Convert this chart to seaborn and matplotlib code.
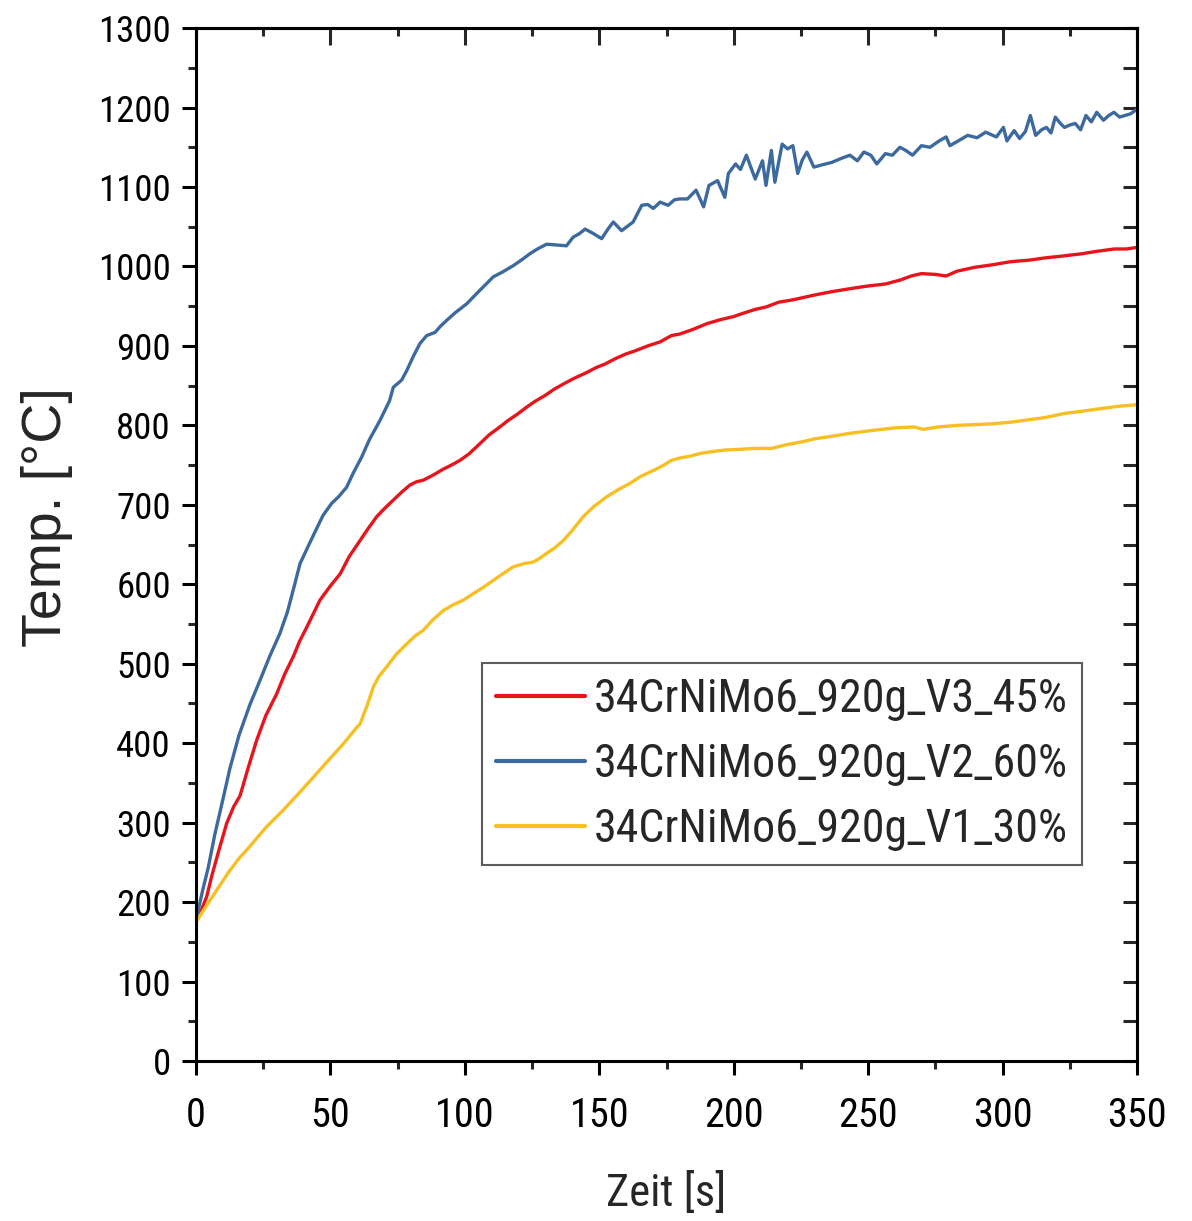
import numpy as np
import pandas as pd
import matplotlib
matplotlib.use("Agg")
import matplotlib.pyplot as plt
from matplotlib import font_manager
from matplotlib.font_manager import FontProperties
from matplotlib.ticker import MultipleLocator
import seaborn as sns

# --- measured heating curves: time [s] and temperature [°C] ---
t_v3 = [0, 2, 4, 5.8, 8.5, 11.4, 14, 16.4, 19.5, 22.6, 26, 30, 33, 36.2, 38.5, 41.2, 43.5,
        46.1, 50, 53.6, 57, 61, 64, 67.2, 70, 73.4, 76.5, 79.6, 82, 84.5, 88, 92, 95, 98.2,
        101.5, 105.6, 109, 113, 116, 119.5, 123, 126, 130, 133, 136.6, 140.5, 145, 149, 152,
        156, 160, 163.5, 168, 172.6, 176.8, 180, 185, 190, 195, 200, 203.4, 208, 212, 216.7,
        222, 226, 230, 236, 243.2, 249, 256.5, 262, 266, 269.8, 275, 279, 283, 289.7, 296,
        303, 310, 316.3, 322, 329.5, 335, 341.5, 346, 350]
T_v3 = [175, 190, 207, 232, 265, 299, 320, 334, 370, 404, 435, 462, 487, 509, 528, 546, 562,
        580, 598, 613, 635, 655, 670, 685, 695, 706, 716, 725, 729, 731, 737, 745, 750, 756,
        764, 777, 788, 798, 806, 814, 823, 830, 838, 845, 852, 859, 866, 873, 877,
        884, 890, 894, 900, 905, 913, 915, 921, 928, 933, 937, 941, 946, 949, 955,
        958, 961, 964, 968, 972, 975, 978, 983, 988, 991, 990, 988, 994, 999, 1002,
        1006, 1008, 1011, 1013, 1016, 1019, 1022, 1022, 1024]

t_v2 = [0, 2.5, 4.6, 7, 10.2, 12.6, 16, 20, 23.8, 27.5, 31.2, 34, 36.8, 38.7, 43, 47.3, 50.5,
        53, 56, 58.5, 61.6, 64.5, 68.4, 72, 73.4, 76.5, 78.4, 81, 83.3, 85.8, 88.9, 91, 93.2,
        96.5, 100.7, 105, 110.6, 114, 118, 121, 124.2, 127, 130.4, 134, 137.8, 140.3, 142.5,
        144.7, 147.5, 150.9, 153, 155.2, 158.3, 162.6, 165.8, 168, 170.1, 172.6, 175.6, 178,
        180, 182.8, 186, 188.8, 190.8, 194, 196.7, 198, 200.7, 202.5, 204.7, 208, 210.7, 212,
        214, 215.3, 218, 220, 222, 223.8, 225.5, 227.2, 229.8, 233, 236.5, 240, 243.2, 246,
        248.4, 251, 253.2, 256.4, 259, 261.8, 264, 266.5, 269.8, 273, 276.4, 279, 280.4,
        283.5, 287, 290.5, 293.7, 297.7, 300.3, 301.6, 304.3, 306.3, 308.5, 310.3, 312.3,
        314.5, 316.3, 318, 319.6, 321.5, 323, 325, 327, 329, 331, 333, 335, 337.5, 339.5,
        341.4, 343.5, 345.5, 347.5, 350]
T_v2 = [177, 215, 244, 285, 332, 368, 410, 448, 479, 510, 538, 565, 601, 626, 657, 687, 702,
        710, 722, 740, 760, 782, 806, 831, 848, 857, 869, 888, 903, 913, 917, 925, 932,
        942, 953, 968, 987, 993, 1001, 1008, 1016, 1022, 1028, 1027, 1026, 1037, 1041,
        1047, 1042, 1035, 1046, 1056, 1045, 1056, 1077, 1078, 1073, 1081, 1077, 1084,
        1085, 1085, 1096, 1075, 1102, 1108, 1087, 1117, 1129, 1122, 1140, 1110, 1133, 1102,
        1146, 1106, 1154, 1148, 1152, 1117, 1134, 1144, 1125, 1128, 1131, 1136, 1140, 1133,
        1144, 1140, 1129, 1142, 1140, 1150, 1146, 1140, 1152, 1150, 1158, 1163, 1152,
        1158, 1165, 1162, 1169, 1163, 1175, 1158, 1171, 1161, 1170, 1190, 1165,
        1172, 1175, 1168, 1188, 1180, 1175, 1178, 1180, 1172, 1190, 1182, 1194, 1184, 1190,
        1194, 1188, 1190, 1192, 1198]

t_v1 = [0, 4, 7.7, 12, 16, 20, 26, 32.5, 38, 43.6, 47, 51, 55, 59.8, 61, 63.5, 66, 68, 70.9,
        74.5, 78.4, 81.5, 84.5, 88, 92, 95.5, 99.4, 103, 106.8, 110.6, 114, 118, 122, 125.4,
        128, 130.4, 133.5, 136.6, 140, 144, 148, 152.7, 157, 161.4, 165.5, 170, 174, 176.8,
        180, 183.4, 188, 192, 196.7, 203, 208, 214, 220, 225, 230, 236, 243.2, 250, 255,
        260.5, 267.1, 270.4, 276, 283, 290, 296.4, 303, 309.6, 316, 323, 330, 336.2, 343, 350]
T_v1 = [175, 196, 215, 237, 255, 270, 294, 316, 336, 357, 370, 385, 400, 420, 424, 446, 471,
        484, 496, 512, 525, 535, 542, 555, 567, 574, 580, 588, 596, 605, 613, 622, 626, 628,
        633, 639, 646, 655, 668, 685, 698, 710, 719, 727, 736, 743, 750, 756,
        759, 761, 765, 767, 769, 770, 771, 771, 776, 779, 783, 786, 790, 793, 795,
        797, 798, 795, 798, 800, 801, 802, 804, 807, 810, 815, 818, 821, 824, 826]

labels = ["34CrNiMo6_920g_V3_45%", "34CrNiMo6_920g_V2_60%", "34CrNiMo6_920g_V1_30%"]
colors = ["#E8141C", "#3D6A9E", "#F7BF22"]

frames = []
for lab, t, T in zip(labels, [t_v3, t_v2, t_v1], [T_v3, T_v2, T_v1]):
    frames.append(pd.DataFrame({"Zeit": t, "Temp": T, "Probe": lab}))
df = pd.concat(frames, ignore_index=True)

sns.set_theme(style="ticks")
plt.rcParams["font.family"] = ["Liberation Sans", "DejaVu Sans"]


def pick_narrow_font():
    """Return the file of a regular-weight narrow sans font, or None."""
    prefs = [
        ("Liberation Sans Narrow", None),
        ("Arial Narrow", None),
        ("Roboto Condensed", None),
        ("Noto Sans", "condensed"),
        ("Open Sans", "condensed"),
        ("DejaVu Sans", "condensed"),
        ("Noto Sans", "semi-condensed"),
        ("Open Sans", "semi-condensed"),
    ]
    fonts = font_manager.fontManager.ttflist
    for name, stretch in prefs:
        for f in fonts:
            if f.name != name or f.style != "normal":
                continue
            if f.weight not in (400, "normal", "regular", "book"):
                continue
            fs = f.stretch
            if stretch is None or fs == stretch:
                low = f.fname.lower()
                if stretch is None or "condensed" in low or "narrow" in low:
                    return f.fname
    return None


narrow_file = pick_narrow_font()
if narrow_file:
    def fp(size):
        return FontProperties(fname=narrow_file, size=size)
    fs_xtick, fs_ytick, fs_label, fs_leg = 29, 26.5, 32, 33
else:
    def fp(size):
        return FontProperties(family="Liberation Sans", size=size)
    fs_xtick, fs_ytick, fs_label, fs_leg = 23, 22, 28, 28

fig = plt.figure(figsize=(11.92, 12.21), dpi=100)
ax = fig.add_axes([0.1644, 0.131, 0.7895, 0.846])

sns.lineplot(data=df, x="Zeit", y="Temp", hue="Probe", hue_order=labels,
             palette=dict(zip(labels, colors)), estimator=None, sort=False,
             linewidth=2.4, ax=ax)

ax.xaxis.set_major_locator(MultipleLocator(50))
ax.xaxis.set_minor_locator(MultipleLocator(25))
ax.yaxis.set_major_locator(MultipleLocator(100))
ax.yaxis.set_minor_locator(MultipleLocator(50))
ax.set_xlim(0, 350)
ax.set_ylim(0, 1300)

for sp in ax.spines.values():
    sp.set_visible(True)
    sp.set_linewidth(2.2)
    sp.set_color("black")

ax.tick_params(which="major", direction="out", length=10, width=2.2, pad=8, colors="black")
ax.tick_params(which="minor", direction="out", length=5.5, width=2.2)
ax.tick_params(axis="x", which="major", pad=15)
fig.canvas.draw()
for lab in ax.get_xticklabels():
    lab.set_fontproperties(fp(fs_xtick))
for lab in ax.get_yticklabels():
    lab.set_fontproperties(fp(fs_ytick))

# inward ticks on the top and right frame
top = ax.secondary_xaxis("top")
top.xaxis.set_major_locator(MultipleLocator(50))
top.xaxis.set_minor_locator(MultipleLocator(25))
top.tick_params(which="major", direction="in", length=12, width=2.2, labeltop=False)
top.tick_params(which="minor", direction="in", length=5.5, width=2.2)
top.spines["top"].set_linewidth(2.2)
right = ax.secondary_yaxis("right")
right.yaxis.set_major_locator(MultipleLocator(100))
right.yaxis.set_minor_locator(MultipleLocator(50))
right.tick_params(which="major", direction="in", length=10, width=2.2, labelright=False)
right.tick_params(which="minor", direction="in", length=10, width=2.2)
right.spines["right"].set_linewidth(2.2)

ax.set_xlabel("Zeit [s]", fontproperties=fp(fs_label))
ax.set_ylabel("Temp. [°C]", fontproperties=FontProperties(family="Liberation Sans", size=40))
ax.xaxis.set_label_coords(0.5, -0.107)
ax.yaxis.set_label_coords(-0.131, 0.527)

leg = ax.legend(loc="upper left", bbox_to_anchor=(0.304, 0.385), borderaxespad=0,
                prop=fp(fs_leg), frameon=True, fancybox=False, handlelength=1.95,
                handletextpad=0.19, labelspacing=0.46, borderpad=0.3)
leg.get_frame().set_edgecolor("#333333")
leg.get_frame().set_linewidth(1.5)
for line in leg.get_lines():
    line.set_linewidth(3)

fig.savefig("out.png", dpi=100, facecolor="white")
